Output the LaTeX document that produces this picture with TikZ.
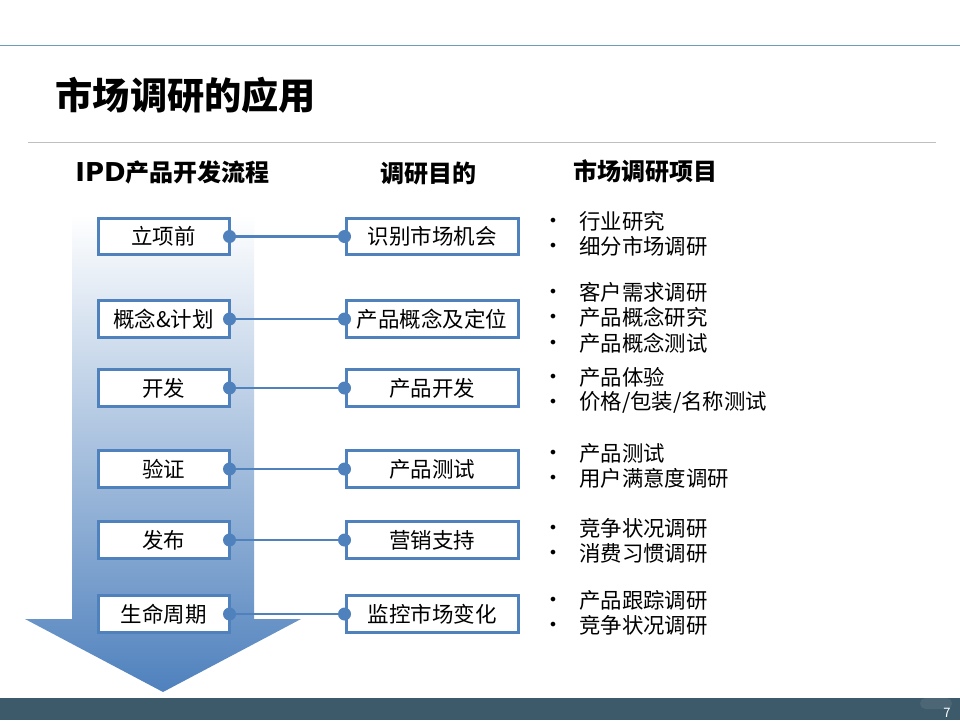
\documentclass[tikz,border=0pt]{standalone}
\usepackage{fontspec}
\setmainfont{Noto Sans CJK SC}
\newfontfamily\latinbold{DejaVu Sans}
\definecolor{boxblue}{HTML}{4F81BD}
\definecolor{barblue}{HTML}{3D5A6A}
\definecolor{topline}{HTML}{6F9DB8}
\tikzset{
  stage/.style={draw=boxblue,line width=3pt,fill=white,minimum width=131pt,minimum height=36.5pt,inner sep=0pt,font=\fontsize{21.5}{25}\selectfont},
  aim/.style={stage,minimum width=172pt},
  dot/.style={circle,fill=boxblue,minimum size=13pt,inner sep=0pt},
  head/.style={font=\fontsize{24}{28}\selectfont\bfseries,inner sep=0pt},
  item/.style={anchor=west,inner sep=0pt,font=\fontsize{21.4}{25}\selectfont},
  tick/.style={inner sep=0pt,font=\latinbold\fontsize{16}{16}\selectfont}
}
\begin{document}
\begin{tikzpicture}[x=1pt,y=-1pt]
  \useasboundingbox (0,0) rectangle (960,720);
  \fill[white] (0,0) rectangle (960,720);
  % frame
  \fill[topline] (0,45) rectangle (960,46);
  \draw[black!25,line width=1pt] (28,142.5) -- (936,142.5);
  \fill[barblue] (0,698) rectangle (960,720);
  \fill[white,opacity=.08,rounded corners=5.5pt] (920,698) rectangle (952,709);
  \node[text=white,inner sep=0pt,font=\fontsize{13}{13}\selectfont] (page) at (947,713) {7};
  % title and headers
  \node[anchor=west,inner sep=0pt,font=\fontsize{37.2}{40}\selectfont\bfseries] (title) at (55.5,95) {市场调研的应用};
  \node[head] (h1) at (172.5,172) {{\latinbold\bfseries\fontsize{26}{28}\selectfont IPD}产品开发流程};
  \node[head] (h2) at (428,173) {调研目的};
  \node[head] (h3) at (645,171) {市场调研项目};
  % arrow
  \shade[top color=white,bottom color=boxblue] (72,215) -- (254,215) -- (254,619) -- (301,619)
    -- (163,692) -- (25,619) -- (72,619) -- cycle;
  % rows
  \foreach \i/\y/\a/\b in {1/236.5/立项前/识别市场机会,2/319/概念\&计划/产品概念及定位,3/388/开发/产品开发,
      4/469/验证/产品测试,5/540/发布/营销支持,6/614/生命周期/监控市场变化}{
    \node[stage] (s\i) at (163.5,\y) {\raisebox{-1pt}{\a}};
    \node[aim] (a\i) at (432,\y) {\raisebox{-1pt}{\b}};
    \node[dot] (ds\i) at ([xshift=-1pt]s\i.east) {};
    \node[dot] (da\i) at (a\i.west) {};
    \draw[boxblue,line width=2.2pt] (ds\i) -- (da\i);
  }
  % survey items
  \foreach \i/\y/\t in {1/221/行业研究,2/246/细分市场调研,3/292/客户需求调研,4/317/产品概念研究,5/343/产品概念测试,
      6/377/产品体验,7/402/{价格/包装/名称测试},8/453/产品测试,9/478/用户满意度调研,10/528/竞争状况调研,
      11/553/消费习惯调研,12/600/产品跟踪调研,13/625/竞争状况调研}{
    \node[tick] (k\i) at (553,\y+1.5) {•};
    \node[item] (t\i) at (579,\y) {\t};
  }
\end{tikzpicture}
\end{document}
